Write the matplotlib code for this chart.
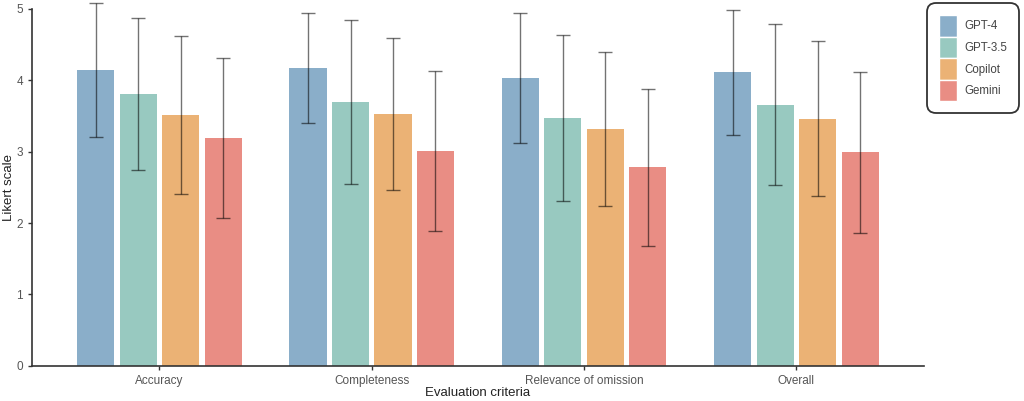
import numpy as np
import matplotlib.pyplot as plt
from matplotlib.patches import Patch

plt.rcParams['font.family'] = ['Liberation Sans', 'DejaVu Sans']

criteria = ['Accuracy', 'Completeness', 'Relevance of omission', 'Overall']
models = ['GPT-4', 'GPT-3.5', 'Copilot', 'Gemini']
colors = ['#8aaec9', '#98c9c0', '#ebb275', '#e98d84']

# mean scores per model, one value per criterion
gpt4_mean = [4.14, 4.17, 4.03, 4.11]
gpt35_mean = [3.81, 3.70, 3.47, 3.66]
copilot_mean = [3.51, 3.53, 3.32, 3.46]
gemini_mean = [3.19, 3.01, 2.78, 2.99]

# standard deviations
gpt4_sd = [0.94, 0.77, 0.91, 0.875]
gpt35_sd = [1.065, 1.15, 1.165, 1.13]
copilot_sd = [1.105, 1.065, 1.08, 1.085]
gemini_sd = [1.125, 1.115, 1.10, 1.125]

means = [gpt4_mean, gpt35_mean, copilot_mean, gemini_mean]
sds = [gpt4_sd, gpt35_sd, copilot_sd, gemini_sd]

fig = plt.figure(figsize=(10.24, 4.01), dpi=100)
ax = fig.add_axes([0.03125, 0.088, 0.871, 0.8896])

x = np.arange(len(criteria))
width = 0.175
offsets = [-0.3, -0.1, 0.1, 0.3]
for i in range(len(models)):
    ax.bar(x + offsets[i], means[i], width, color=colors[i], label=models[i],
           zorder=1)
    eb = ax.errorbar(x + offsets[i], means[i], yerr=sds[i], fmt='none',
                     ecolor='black', alpha=0.55, elinewidth=1, capsize=4.7,
                     capthick=1, zorder=2)
    for art in eb.get_children():
        art.set_clip_on(False)

ax.set_xlim(-0.6, 3.6)
ax.set_ylim(0, 5)
ax.set_xticks(x)
ax.set_xticklabels(criteria)
ax.set_yticks([0, 1, 2, 3, 4, 5])
ax.spines['top'].set_visible(False)
ax.spines['right'].set_visible(False)
for s in ['left', 'bottom']:
    ax.spines[s].set_color('#333333')
    ax.spines[s].set_linewidth(1.2)
ax.tick_params(axis='both', colors='#333333', labelcolor='#555555',
               labelsize=8.5, length=3, width=1)
ax.set_xlabel('Evaluation criteria', fontsize=9.5, color='#222222',
              va='center')
ax.xaxis.set_label_coords(0.5, -0.0765)
ax.set_ylabel('Likert scale', fontsize=9.5, color='#222222', va='center')
ax.yaxis.set_label_coords(-0.0258, 0.5)

handles = [Patch(facecolor=c, edgecolor='white', linewidth=1) for c in colors]
leg = fig.legend(handles, models, loc='upper right',
                 bbox_to_anchor=(0.995, 0.9925), fontsize=8.3,
                 frameon=True, fancybox=True, handlelength=1.55,
                 handleheight=2.5, labelspacing=0.0, handletextpad=0.6,
                 borderpad=1.05, borderaxespad=0.0)
leg.get_frame().set_edgecolor('black')
leg.get_frame().set_linewidth(1.3)
leg.get_frame().set_boxstyle('round,pad=0,rounding_size=0.8')
for t in leg.get_texts():
    t.set_color('#444444')

fig.savefig('out.png', dpi=100)
